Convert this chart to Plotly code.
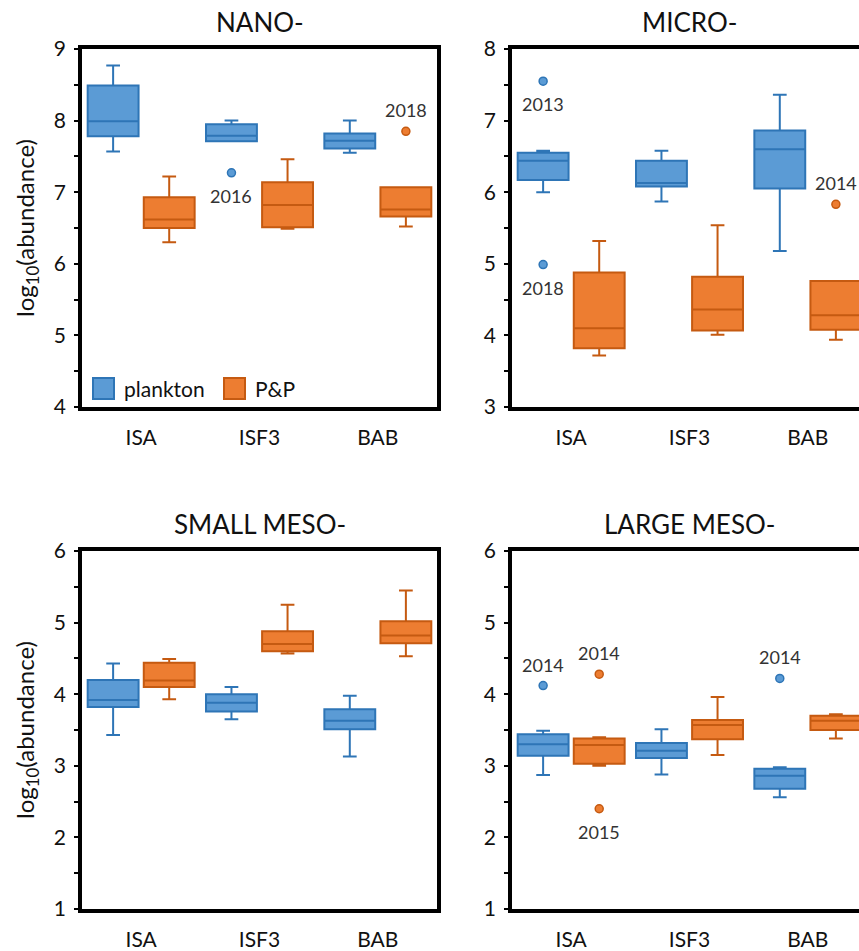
import plotly.graph_objects as go

# ---- data -------------------------------------------------------------
categories = ["ISA", "ISF3", "BAB"]
series_names = ["plankton", "P&P"]
panel_titles = ["NANO-", "MICRO-", "SMALL MESO-", "LARGE MESO-"]
y_ranges = [[4, 9], [3, 8], [1, 6], [1, 6]]

# box statistics, log10(abundance); one list per panel, values per category
plankton_lower = [[7.57, 7.71, 7.55], [6.00, 5.87, 5.18], [3.43, 3.65, 3.13], [2.87, 2.88, 2.56]]
plankton_q1 = [[7.78, 7.71, 7.61], [6.17, 6.08, 6.05], [3.82, 3.76, 3.51], [3.14, 3.11, 2.68]]
plankton_median = [[7.99, 7.79, 7.72], [6.44, 6.13, 6.60], [3.92, 3.88, 3.63], [3.30, 3.21, 2.86]]
plankton_q3 = [[8.49, 7.95, 7.82], [6.55, 6.44, 6.86], [4.20, 4.00, 3.79], [3.44, 3.32, 2.96]]
plankton_upper = [[8.77, 8.00, 8.00], [6.58, 6.58, 7.36], [4.43, 4.10, 3.98], [3.49, 3.51, 2.98]]

pp_lower = [[6.30, 6.49, 6.52], [3.72, 4.01, 3.94], [3.93, 4.57, 4.53], [3.00, 3.15, 3.38]]
pp_q1 = [[6.50, 6.51, 6.66], [3.82, 4.07, 4.08], [4.10, 4.60, 4.71], [3.03, 3.37, 3.50]]
pp_median = [[6.62, 6.82, 6.76], [4.10, 4.36, 4.28], [4.19, 4.70, 4.82], [3.29, 3.57, 3.63]]
pp_q3 = [[6.93, 7.14, 7.07], [4.88, 4.82, 4.76], [4.44, 4.88, 5.02], [3.38, 3.64, 3.70]]
pp_upper = [[7.22, 7.46, 7.07], [5.32, 5.54, 4.76], [4.49, 5.25, 5.45], [3.40, 3.96, 3.72]]

# outliers: panel index, series index, category index, value, year, label above?
outlier_panel = [0, 0, 1, 1, 1, 3, 3, 3, 3]
outlier_series = [0, 1, 0, 0, 1, 0, 0, 1, 1]
outlier_cat = [1, 2, 0, 0, 2, 0, 2, 0, 0]
outlier_value = [7.27, 7.85, 7.55, 4.99, 5.83, 4.12, 4.22, 4.28, 2.40]
outlier_year = ["2016", "2018", "2013", "2018", "2014", "2014", "2014", "2014", "2015"]
outlier_above = [False, True, False, False, True, True, True, True, False]

# ---- styling ------------------------------------------------------------
FONT = "Lato"
W, H = 859, 951
fill_colors = ["#5b9bd5", "#ed7d31"]
line_colors = ["#2e75b6", "#c55a11"]
offsets = [-0.237, 0.237]
box_width = 0.43

# panel frames in pixels: (left, right, top, bottom)
col_px = [(82, 437), (512, 859)]
row_px = [(49, 407), (551, 909)]
unit_px = (437 - 82) / 3.0

stats = [
    (plankton_lower, plankton_q1, plankton_median, plankton_q3, plankton_upper),
    (pp_lower, pp_q1, pp_median, pp_q3, pp_upper),
]

fig = go.Figure()

for p in range(4):
    xa = "x" if p == 0 else f"x{p + 1}"
    ya = "y" if p == 0 else f"y{p + 1}"
    for s in range(2):
        lo, q1, med, q3, up = stats[s]
        fig.add_trace(go.Box(
            x=[i + offsets[s] for i in range(len(categories))],
            lowerfence=lo[p], q1=q1[p], median=med[p], q3=q3[p], upperfence=up[p],
            name=series_names[s], showlegend=False,
            width=box_width, whiskerwidth=0.27,
            fillcolor=fill_colors[s],
            line=dict(color=line_colors[s], width=2),
            boxpoints=False, hoverinfo="skip",
            xaxis=xa, yaxis=ya,
        ))
    # outlier markers
    for s in range(2):
        idx = [k for k in range(len(outlier_value))
               if outlier_panel[k] == p and outlier_series[k] == s]
        if not idx:
            continue
        fig.add_trace(go.Scatter(
            x=[outlier_cat[k] + offsets[s] for k in idx],
            y=[outlier_value[k] for k in idx],
            mode="markers", showlegend=False, hoverinfo="skip",
            marker=dict(size=8, color=fill_colors[s],
                        line=dict(color=line_colors[s], width=1.5)),
            xaxis=xa, yaxis=ya,
        ))
        for k in idx:
            fig.add_annotation(
                x=outlier_cat[k] + offsets[s], y=outlier_value[k],
                xref=xa, yref=ya, text=outlier_year[k], showarrow=False,
                xanchor="center",
                yshift=21 if outlier_above[k] else -23,
                font=dict(family=FONT, size=18, color="#333333"),
            )

layout = dict(
    width=W, height=H, autosize=False,
    margin=dict(l=0, r=0, t=0, b=0),
    paper_bgcolor="white", plot_bgcolor="white",
    showlegend=False,
    font=dict(family=FONT, color="#111111"),
)

for p in range(4):
    r, c = divmod(p, 2)
    left, right = col_px[c]
    top, bottom = row_px[r]
    xkey = "xaxis" if p == 0 else f"xaxis{p + 1}"
    ykey = "yaxis" if p == 0 else f"yaxis{p + 1}"
    xa_id = "x" if p == 0 else f"x{p + 1}"
    ya_id = "y" if p == 0 else f"y{p + 1}"
    x_hi = -0.5 + (right - left) / unit_px
    layout[xkey] = dict(
        domain=[left / W, right / W], range=[-0.5, x_hi], anchor=ya_id,
        tickmode="array", tickvals=list(range(len(categories))), ticktext=categories,
        ticks="", showgrid=False, zeroline=False,
        showline=True, linecolor="black", linewidth=3.5, mirror=True,
        tickfont=dict(family=FONT, size=21, color="#111111"),
        ticklabelstandoff=9, automargin=False, fixedrange=True,
    )
    ydict = dict(
        domain=[1 - bottom / H, 1 - top / H], range=y_ranges[p], anchor=xa_id,
        dtick=1, ticks="outside", ticklen=4, tickwidth=2, tickcolor="black",
        minor=dict(ticks="outside", dtick=0.5, ticklen=4, tickwidth=2, tickcolor="black"),
        showgrid=False, zeroline=False,
        showline=True, linecolor="black", linewidth=3.5, mirror=(c == 0),
        tickfont=dict(family=FONT, size=21, color="#111111"),
        ticklabelstandoff=4, automargin=False, fixedrange=True,
    )
    if c == 0:
        ydict["title"] = dict(text="log<sub>10</sub>(abundance)", standoff=13,
                              font=dict(family=FONT, size=24, color="#111111"))
    layout[ykey] = ydict

fig.update_layout(**layout)

# panel titles
for p in range(4):
    r, c = divmod(p, 2)
    left, right = col_px[c]
    top, _ = row_px[r]
    cx = (left + left + 3 * unit_px) / 2.0
    fig.add_annotation(
        x=cx / W, y=1 - (top - 27) / H, xref="paper", yref="paper",
        text=panel_titles[p], showarrow=False, xanchor="center", yanchor="middle",
        font=dict(family=FONT, size=26, color="#111111"),
    )

# legend drawn inside the first panel
legend_x = [93, 224]
for s in range(2):
    x0 = legend_x[s]
    fig.add_shape(
        type="rect", xref="paper", yref="paper",
        x0=x0 / W, x1=(x0 + 21) / W, y0=1 - 399 / H, y1=1 - 378 / H,
        fillcolor=fill_colors[s], line=dict(color=line_colors[s], width=2),
    )
    fig.add_annotation(
        x=(x0 + 29) / W, y=1 - 388 / H, xref="paper", yref="paper",
        text=series_names[s], showarrow=False, xanchor="left", yanchor="middle",
        font=dict(family=FONT, size=21, color="#111111"),
    )

fig.write_html("out.html")
